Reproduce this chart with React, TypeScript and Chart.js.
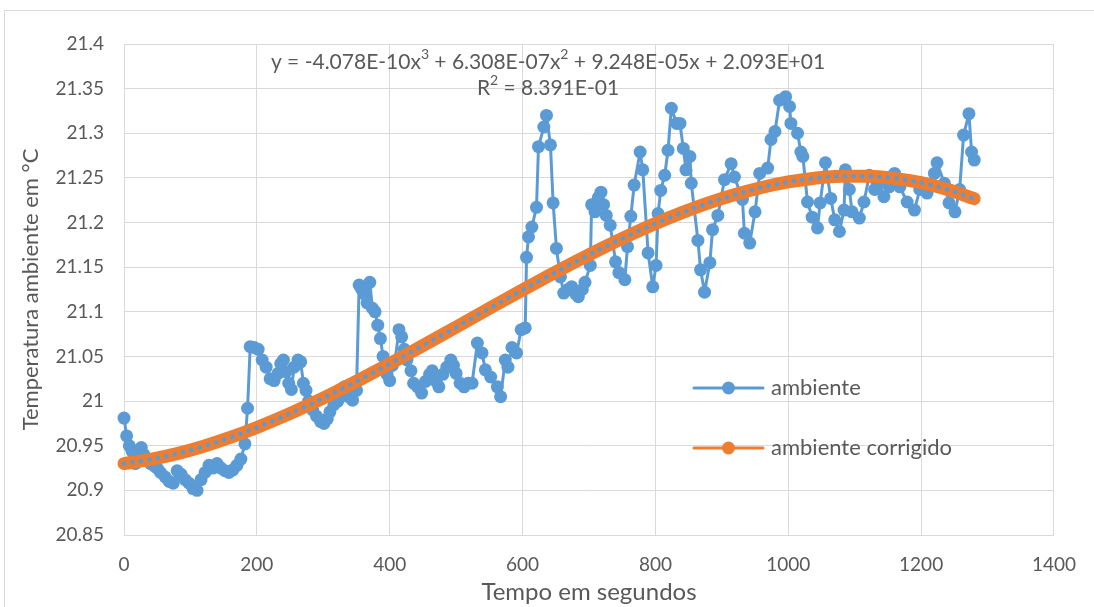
import React, { useEffect, useRef } from "react";
import { Chart, registerables } from "chart.js";

Chart.register(...registerables);

// ---- data ----
const times = [
  0, 4, 8, 12, 17, 22, 26, 30, 34, 40, 46, 50, 55, 62, 68, 74, 80, 86, 92, 98,
  104, 110, 116, 122, 128, 134, 140, 146, 152, 158, 164, 170, 176, 182, 186, 190, 196, 202, 208, 214,
  220, 226, 232, 236, 240, 244, 248, 252, 256, 262, 266, 270, 274, 278, 284, 290, 296, 301, 306, 310,
  316, 322, 328, 332, 338, 344, 350, 354, 358, 362, 366, 370, 374, 378, 382, 386, 390, 396, 400, 404,
  408, 414, 418, 422, 426, 432, 436, 442, 448, 454, 460, 464, 470, 474, 480, 486, 492, 496, 500, 506,
  512, 518, 524, 532, 539, 544, 552, 562, 567, 574, 578, 584, 591, 598, 604, 606, 609, 614, 621, 624,
  632, 636, 642, 646, 651, 657, 662, 668, 674, 680, 684, 690, 694, 702, 704, 709, 714, 718, 722, 726,
  732, 740, 745, 754, 758, 763, 768, 777, 781, 789, 796, 801, 804, 808, 814, 819, 824, 832, 837, 842,
  846, 852, 854, 864, 868, 874, 882, 886, 894, 904, 914, 919, 931, 934, 942, 950, 957, 969, 974, 980,
  987, 996, 1002, 1004, 1014, 1019, 1022, 1029, 1036, 1044, 1048, 1056, 1064, 1070, 1077, 1084, 1086, 1092, 1096, 1107,
  1114, 1122, 1130, 1137, 1144, 1152, 1160, 1168, 1179, 1190, 1198, 1209, 1220, 1224, 1235, 1242, 1251, 1258, 1264, 1272,
  1276, 1280,
];

const ambiente = [
  20.981, 20.961, 20.95, 20.944, 20.93, 20.945, 20.948, 20.94, 20.935, 20.93, 20.927, 20.925, 20.92, 20.915, 20.91, 20.908, 20.922, 20.918, 20.912, 20.908,
  20.902, 20.9, 20.912, 20.92, 20.928, 20.925, 20.93, 20.925, 20.922, 20.92, 20.923, 20.928, 20.935, 20.952, 20.992, 21.061, 21.06, 21.058, 21.046, 21.038,
  21.025, 21.023, 21.031, 21.042, 21.046, 21.033, 21.02, 21.013, 21.038, 21.046, 21.044, 21.02, 21.012, 21.0, 20.99, 20.983, 20.977, 20.975, 20.98, 20.988,
  20.996, 21.0, 21.012, 21.016, 21.005, 21.001, 21.012, 21.13, 21.125, 21.12, 21.11, 21.133, 21.104, 21.1, 21.085, 21.07, 21.05, 21.03, 21.023, 21.04,
  21.045, 21.08, 21.072, 21.058, 21.046, 21.034, 21.02, 21.016, 21.009, 21.022, 21.03, 21.034, 21.022, 21.016, 21.03, 21.038, 21.046, 21.04, 21.031, 21.02,
  21.016, 21.02, 21.02, 21.065, 21.054, 21.035, 21.027, 21.016, 21.005, 21.046, 21.038, 21.06, 21.054, 21.08, 21.082, 21.161, 21.184, 21.195, 21.217, 21.285,
  21.307, 21.32, 21.287, 21.222, 21.171, 21.139, 21.121, 21.125, 21.128, 21.12, 21.117, 21.125, 21.133, 21.152, 21.22, 21.212, 21.228, 21.234, 21.22, 21.208,
  21.197, 21.156, 21.144, 21.136, 21.173, 21.207, 21.242, 21.279, 21.259, 21.166, 21.128, 21.152, 21.21, 21.236, 21.253, 21.281, 21.328, 21.311, 21.311, 21.283,
  21.259, 21.274, 21.244, 21.18, 21.147, 21.122, 21.155, 21.192, 21.208, 21.248, 21.266, 21.251, 21.226, 21.188, 21.177, 21.212, 21.255, 21.261, 21.293, 21.302,
  21.337, 21.341, 21.33, 21.311, 21.3, 21.279, 21.274, 21.223, 21.206, 21.194, 21.222, 21.267, 21.227, 21.203, 21.19, 21.214, 21.259, 21.237, 21.212, 21.205,
  21.223, 21.253, 21.237, 21.245, 21.229, 21.24, 21.255, 21.24, 21.223, 21.214, 21.237, 21.233, 21.255, 21.267, 21.244, 21.222, 21.212, 21.237, 21.298, 21.322,
  21.279, 21.27,
];

const fitTimes = [
  0, 40, 80, 120, 160, 200, 240, 280, 320, 360, 400, 440, 480, 520, 560, 600, 640,
  680, 720, 760, 800, 840, 880, 920, 960, 1000, 1040, 1080, 1120, 1160, 1200, 1240, 1280,
];

const ambienteCorrigido = [
  20.93, 20.9347, 20.9412, 20.9495, 20.9593, 20.9705, 20.9829, 20.9964, 21.0108, 21.026, 21.0418, 21.0581, 21.0746, 21.0913, 21.108, 21.1245, 21.1407,
  21.1563, 21.1714, 21.1856, 21.1989, 21.2111, 21.222, 21.2314, 21.2393, 21.2455, 21.2497, 21.2519, 21.2519, 21.2495, 21.2447, 21.2371, 21.2267,
];

const seriesNames = ["ambiente", "ambiente corrigido"];
const xTitle = "Tempo em segundos";
const yTitle = "Temperatura ambiente em °C";
const eqLine1 = ["y = -4.078E-10x", "3", " + 6.308E-07x", "2", " + 9.248E-05x + 2.093E+01"];
const eqLine2 = ["R", "2", " = 8.391E-01"];

const BLUE = "#5B9BD5";
const ORANGE = "#ED7D31";
const TEXT = "#595959";
const GRID = "#D9D9D9";
const FONT = "Lato, 'Open Sans', sans-serif";

function drawSupLine(ctx: CanvasRenderingContext2D, parts: string[], cx: number, cy: number, size: number) {
  const normal = `${size}px ${FONT}`;
  const small = `${Math.round(size * 0.65)}px ${FONT}`;
  let total = 0;
  const widths: number[] = [];
  parts.forEach((p, i) => {
    ctx.font = i % 2 === 1 ? small : normal;
    const w = ctx.measureText(p).width;
    widths.push(w);
    total += w;
  });
  let x = cx - total / 2;
  ctx.textBaseline = "middle";
  ctx.textAlign = "left";
  parts.forEach((p, i) => {
    const sup = i % 2 === 1;
    ctx.font = sup ? small : normal;
    ctx.fillText(p, x, sup ? cy - size * 0.35 : cy);
    x += widths[i];
  });
}

const overlayPlugin = {
  id: "overlay",
  beforeDraw(chart: any) {
    const ctx = chart.ctx as CanvasRenderingContext2D;
    ctx.save();
    ctx.fillStyle = "#ffffff";
    ctx.fillRect(0, 0, chart.width, chart.height);
    ctx.strokeStyle = GRID;
    ctx.lineWidth = 1;
    ctx.strokeRect(4.5, 10.5, chart.width + 10, chart.height + 10);
    ctx.restore();
  },
  afterDraw(chart: any) {
    const ctx = chart.ctx as CanvasRenderingContext2D;
    ctx.save();
    ctx.fillStyle = TEXT;
    drawSupLine(ctx, eqLine1, 548, 62, 21);
    drawSupLine(ctx, eqLine2, 548, 88, 21);

    // legend
    const items = [
      { name: seriesNames[0], color: BLUE, y: 388 },
      { name: seriesNames[1], color: ORANGE, y: 448 },
    ];
    items.forEach((it) => {
      ctx.strokeStyle = it.color;
      ctx.lineWidth = 3;
      ctx.lineCap = "round";
      ctx.beginPath();
      ctx.moveTo(694, it.y);
      ctx.lineTo(763, it.y);
      ctx.stroke();
      ctx.fillStyle = it.color;
      ctx.beginPath();
      ctx.arc(728.5, it.y, 6.5, 0, Math.PI * 2);
      ctx.fill();
      ctx.fillStyle = TEXT;
      ctx.font = `22px ${FONT}`;
      ctx.textAlign = "left";
      ctx.textBaseline = "middle";
      ctx.fillText(it.name, 771, it.y);
    });
    ctx.restore();
  },
};

export default function App() {
  const ref = useRef<HTMLCanvasElement | null>(null);

  useEffect(() => {
    if (!ref.current) return;
    const blueData = times.map((t, i) => ({ x: t, y: ambiente[i] }));
    const fitData = fitTimes.map((t, i) => ({ x: t, y: ambienteCorrigido[i] }));

    const chart = new Chart(ref.current, {
      type: "line",
      data: {
        datasets: [
          {
            label: "trend",
            data: fitData,
            borderColor: BLUE,
            borderWidth: 4.5,
            borderDash: [0.1, 8.5],
            borderCapStyle: "round",
            pointRadius: 0,
            cubicInterpolationMode: "monotone",
            clip: false,
            order: 0,
          },
          {
            label: seriesNames[1],
            data: fitData,
            borderColor: ORANGE,
            borderWidth: 13,
            borderCapStyle: "round",
            borderJoinStyle: "round",
            pointRadius: 0,
            cubicInterpolationMode: "monotone",
            clip: false,
            order: 1,
          },
          {
            label: seriesNames[0],
            data: blueData,
            borderColor: BLUE,
            borderWidth: 3,
            borderJoinStyle: "round",
            pointRadius: 6.5,
            pointBackgroundColor: BLUE,
            pointBorderColor: BLUE,
            pointBorderWidth: 0,
            clip: false,
            order: 2,
          },
        ],
      },
      options: {
        animation: false,
        responsive: false,
        events: [],
        layout: { padding: { left: 0, top: 44, right: 36, bottom: 0 } },
        plugins: {
          legend: { display: false },
          tooltip: { enabled: false },
        },
        scales: {
          x: {
            type: "linear",
            min: 0,
            max: 1400,
            afterFit: (s: any) => {
              s.height = 72;
            },
            ticks: {
              stepSize: 200,
              padding: 18,
              color: TEXT,
              font: { family: FONT, size: 19 },
              maxRotation: 0,
              callback: (v: any) => String(v),
            },
            grid: { color: GRID, lineWidth: 1, drawTicks: false },
            border: { color: GRID },
            title: {
              display: true,
              text: xTitle,
              color: TEXT,
              font: { family: FONT, size: 24 },
              padding: { top: 0, bottom: 0 },
            },
          },
          y: {
            type: "linear",
            min: 20.85,
            max: 21.4,
            afterFit: (s: any) => {
              s.width = 124;
            },
            ticks: {
              stepSize: 0.05,
              padding: 20,
              color: TEXT,
              font: { family: FONT, size: 19 },
              callback: (v: any) => String(Math.round(Number(v) * 100) / 100),
            },
            grid: { color: GRID, lineWidth: 1, drawTicks: false },
            border: { color: GRID },
            title: {
              display: true,
              text: yTitle,
              color: TEXT,
              font: { family: FONT, size: 22 },
              padding: { top: 18, bottom: 0 },
            },
          },
        },
      },
      plugins: [overlayPlugin],
    });
    return () => chart.destroy();
  }, []);

  return (
    <div style={{ position: "fixed", left: 0, top: 0, width: 1094, height: 607, background: "#fff" }}>
      <canvas ref={ref} width={1094} height={607} style={{ display: "block" }} />
    </div>
  );
}
